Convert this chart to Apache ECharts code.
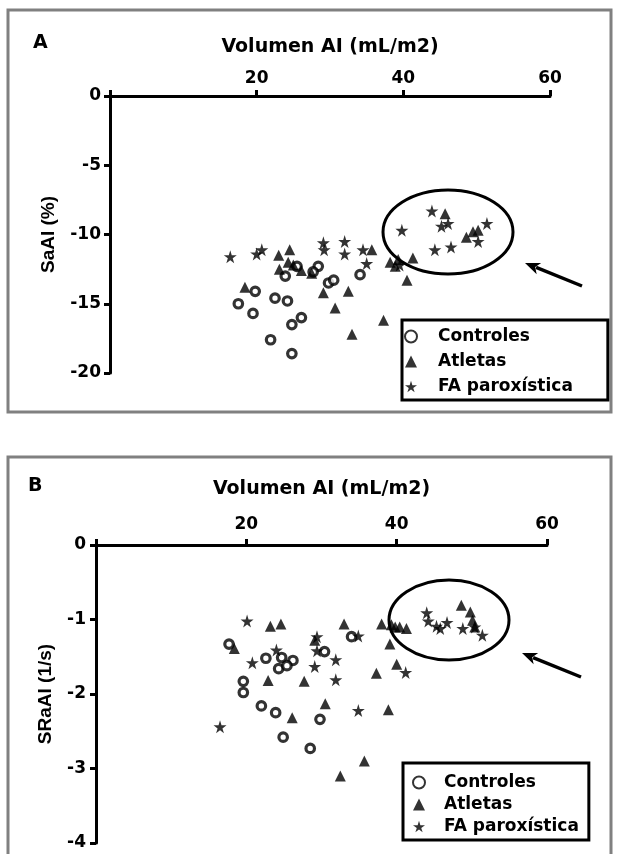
<!DOCTYPE html>
<html>
<head>
    <meta charset="UTF-8">
    <title>Volumen AI</title>
    <script src="https://cdn.jsdelivr.net/npm/echarts@6/dist/echarts.min.js"></script>
    <style>
        html, body { margin: 0; padding: 0; background: #fff; }
        #chart { width: 618px; height: 854px; }
    </style>
</head>
<body>
<div id="chart"></div>
<script>
    // datos: [volumen AI, valor]
    var seriesNames = ['Controles', 'Atletas', 'FA paroxística'];
    var xTicks = [0, 20, 40, 60];

    var ctrlA = [[23.9, -13.0], [25.5, -12.3], [28.4, -12.3], [27.7, -12.7], [29.8, -13.5], [30.5, -13.3],
        [34.1, -12.9], [19.8, -14.1], [17.5, -15.0], [19.5, -15.7], [22.5, -14.6], [24.2, -14.8],
        [24.8, -16.5], [26.1, -16.0], [21.9, -17.6], [24.8, -18.6]];
    var atlA = [[24.5, -11.1], [23.0, -11.5], [23.1, -12.5], [24.3, -12.0], [25.0, -12.2], [26.1, -12.6],
        [27.5, -12.8], [18.4, -13.8], [29.1, -14.2], [30.7, -15.3], [35.7, -11.1], [32.5, -14.1],
        [37.3, -16.2], [33.0, -17.2], [38.2, -12.0], [38.9, -12.3], [39.3, -11.8], [41.3, -11.7],
        [40.5, -13.3], [45.7, -8.5], [48.6, -10.2], [49.5, -9.8], [50.2, -9.7]];
    var faA = [[16.4, -11.6], [20.0, -11.4], [20.7, -11.1], [29.1, -10.6], [29.2, -11.1], [32.0, -10.5],
        [32.0, -11.4], [34.5, -11.1], [35.0, -12.1], [39.5, -12.2], [39.8, -9.7], [43.9, -8.3],
        [45.2, -9.4], [46.1, -9.2], [44.3, -11.1], [46.5, -10.9], [50.2, -10.5], [51.4, -9.2]];

    var ctrlB = [[17.7, -1.33], [22.6, -1.52], [24.7, -1.51], [26.2, -1.55], [24.3, -1.66], [25.4, -1.62],
        [19.6, -1.83], [19.6, -1.98], [22.0, -2.16], [23.9, -2.25], [24.9, -2.58], [28.5, -2.73],
        [29.8, -2.34], [30.4, -1.43], [34.0, -1.23]];
    var atlB = [[18.4, -1.39], [23.2, -1.09], [24.6, -1.06], [22.9, -1.82], [27.7, -1.83], [26.1, -2.32],
        [30.5, -2.13], [29.1, -1.28], [32.5, -3.10], [35.7, -2.90], [33.0, -1.06], [38.0, -1.06],
        [39.3, -1.07], [39.8, -1.10], [40.4, -1.10], [41.3, -1.12], [39.1, -1.33], [40.0, -1.60],
        [37.3, -1.72], [38.9, -2.21], [48.6, -0.81], [49.8, -0.90], [50.1, -1.01], [50.4, -1.10]];
    var faB = [[20.1, -1.02], [16.5, -2.44], [20.8, -1.58], [24.0, -1.41], [29.1, -1.63], [29.4, -1.23],
        [29.4, -1.42], [31.9, -1.54], [31.9, -1.81], [34.9, -1.22], [34.9, -2.22], [41.2, -1.71],
        [44.0, -0.91], [44.2, -1.02], [45.3, -1.09], [45.8, -1.12], [46.7, -1.04], [48.8, -1.12],
        [50.4, -1.10], [51.4, -1.21]];

    var font = 'DejaVu Sans';
    var starPath = 'path://M50,0 L61,35 L98,35 L68,57 L79,91 L50,70 L21,91 L32,57 L2,35 L39,35 Z';

    function arrow(x1, y1, x2, y2) {
        // linea desde (x1,y1) con punta en (x2,y2)
        var dx = x2 - x1, dy = y2 - y1, len = Math.sqrt(dx * dx + dy * dy);
        var ux = dx / len, uy = dy / len, hl = 15, hw = 6;
        var bx = x2 - ux * hl, by = y2 - uy * hl;
        return [{
            type: 'line',
            shape: { x1: x1, y1: y1, x2: bx + ux * 3, y2: by + uy * 3 },
            style: { stroke: '#000', lineWidth: 3.5 }
        }, {
            type: 'polygon',
            shape: { points: [[x2, y2], [bx - uy * hw, by + ux * hw], [bx + ux * 4, by + uy * 4], [bx + uy * hw, by - ux * hw]] },
            style: { fill: '#000' }
        }];
    }

    function xAxisOf(grid, labelMargin, nameGap) {
        return {
            gridIndex: grid, type: 'value', position: 'top', min: 0, max: 60, interval: 20,
            name: 'Volumen AI (mL/m2)', nameLocation: 'middle', nameGap: nameGap,
            nameTextStyle: { fontFamily: font, fontWeight: 'bold', fontSize: 19, color: '#000' },
            axisLine: { onZero: false, lineStyle: { color: '#000', width: 3 } },
            axisTick: { length: 6, lineStyle: { color: '#000', width: 3 } },
            axisLabel: {
                margin: labelMargin, fontFamily: font, fontWeight: 'bold', fontSize: 17, color: '#000',
                formatter: function (v) { return v === xTicks[0] ? '' : v; }
            },
            splitLine: { show: false }
        };
    }

    function yAxisOf(grid, min, interval, name, nameGap, labelMargin) {
        return {
            gridIndex: grid, type: 'value', min: min, max: 0, interval: interval,
            name: name, nameLocation: 'middle', nameGap: nameGap,
            nameTextStyle: { fontFamily: 'Liberation Sans', fontWeight: 'bold', fontSize: 19, color: '#000' },
            axisLine: { onZero: false, lineStyle: { color: '#000', width: 3 } },
            axisTick: { length: 6, lineStyle: { color: '#000', width: 3 } },
            axisLabel: { margin: labelMargin, fontFamily: font, fontWeight: 'bold', fontSize: 17, color: '#000' },
            splitLine: { show: false }
        };
    }

    function scatter(name, data, idx) {
        var s = {
            name: name, type: 'scatter', xAxisIndex: idx, yAxisIndex: idx, data: data,
            animation: false, z: 3
        };
        if (name === seriesNames[0]) {
            s.symbol = 'circle'; s.symbolSize = 8.5;
            s.itemStyle = { color: '#fff', borderColor: '#000', borderWidth: 3.2 };
        } else if (name === seriesNames[1]) {
            s.symbol = 'triangle'; s.symbolSize = 11;
            s.itemStyle = { color: '#000' };
        } else {
            s.symbol = starPath; s.symbolSize = 13;
            s.itemStyle = { color: '#000' };
        }
        return s;
    }

    function legendOf(left, top, padding, gap, textPad) {
        return {
            left: left, top: top, orient: 'vertical', data: seriesNames,
            padding: padding, itemGap: gap, itemWidth: 12, itemHeight: 12,
            borderColor: '#000', borderWidth: 3, selectedMode: false,
            textStyle: {
                fontFamily: font, fontWeight: 'bold', fontSize: 17, color: '#000', lineHeight: 17,
                padding: [0, 0, 0, textPad]
            }
        };
    }

    var chart = echarts.init(document.getElementById('chart'), null, { renderer: 'canvas' });

    var graphics = [
        { type: 'rect', shape: { x: 8, y: 10, width: 603, height: 402 }, style: { fill: 'none', stroke: '#808080', lineWidth: 3 } },
        { type: 'rect', shape: { x: 8, y: 457, width: 603, height: 410 }, style: { fill: 'none', stroke: '#808080', lineWidth: 3 } },
        { type: 'text', left: 33, top: 34, style: { text: 'A', font: 'bold 19px "DejaVu Sans"', fill: '#000' } },
        { type: 'text', left: 28, top: 477, style: { text: 'B', font: 'bold 19px "DejaVu Sans"', fill: '#000' } },
        { type: 'ellipse', shape: { cx: 448, cy: 232, rx: 65, ry: 42 }, style: { fill: 'none', stroke: '#000', lineWidth: 3 } },
        { type: 'ellipse', shape: { cx: 449, cy: 620, rx: 60, ry: 40 }, style: { fill: 'none', stroke: '#000', lineWidth: 3 } }
    ].concat(arrow(582, 286, 525, 263)).concat(arrow(581, 677, 522, 653));

    chart.setOption({
        animation: false,
        backgroundColor: '#fff',
        grid: [
            { left: 110, top: 96, width: 440, height: 277 },
            { left: 96, top: 545, width: 451, height: 298 }
        ],
        xAxis: [xAxisOf(0, 9, 39), xAxisOf(1, 12, 46)],
        yAxis: [
            yAxisOf(0, -20, 5, 'SaAI (%)', 52, 9),
            yAxisOf(1, -4, 1, 'SRaAI (1/s)', 41, 10)
        ],
        legend: [
            legendOf(402, 320, [8, 35, 5, 2], 8, 16),
            legendOf(403, 763, [11, 10, 5, 9], 5, 14)
        ],
        graphic: graphics,
        series: [
            scatter(seriesNames[0], ctrlA, 0),
            scatter(seriesNames[1], atlA, 0),
            scatter(seriesNames[2], faA, 0),
            scatter(seriesNames[0], ctrlB, 1),
            scatter(seriesNames[1], atlB, 1),
            scatter(seriesNames[2], faB, 1)
        ]
    });
</script>
</body>
</html>
